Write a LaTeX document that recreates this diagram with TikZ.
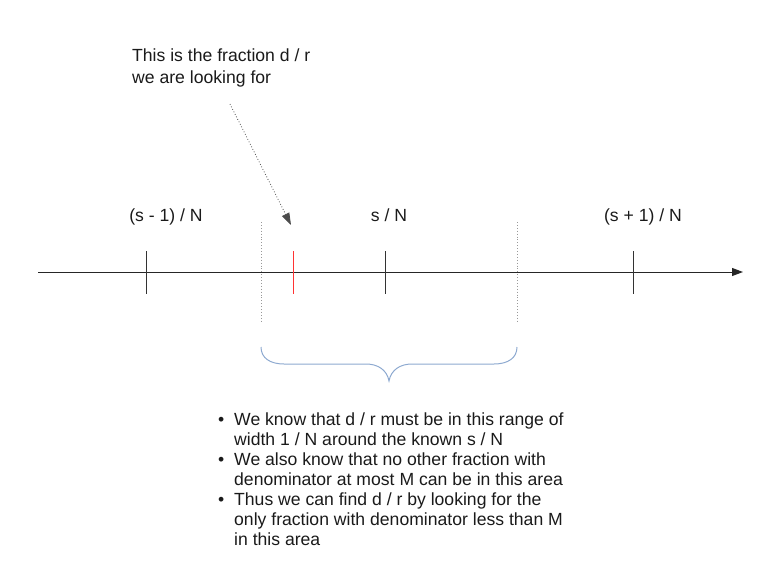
\documentclass[tikz,border=0pt]{standalone}
\usepackage{fontspec}
\setmainfont{Liberation Sans}
\usetikzlibrary{arrows.meta}
\definecolor{txt}{HTML}{1A1A1A}
\definecolor{bracec}{HTML}{8DA9D0}
\definecolor{tickred}{HTML}{FF3333}
\definecolor{dotc}{HTML}{999999}
\tikzset{
  lbl/.style={inner sep=0pt, text=txt, font=\fontsize{17.6}{20}\selectfont},
  tickmark/.style={draw=black!80, line width=0.9pt},
  bound/.style={draw=dotc, dotted, line width=0.9pt},
  axisline/.style={draw=black!85, line width=1pt, -{Triangle[length=11pt,width=8pt]}},
  pointer/.style={draw=black!70, dotted, line width=0.8pt, -{Triangle[length=12pt,width=8pt]}},
  bracestyle/.style={draw=bracec, line width=1pt},
}
\begin{document}
\begin{tikzpicture}[x=1pt,y=-1pt]
\useasboundingbox (0,0) rectangle (781,586);
% axis
\coordinate (a0) at (38,272);
\coordinate (a1) at (743,272);
\draw[axisline] (a0) -- (a1);
% ticks
\coordinate (t1a) at (146,251); \coordinate (t1b) at (146,294);
\coordinate (t2a) at (293,251); \coordinate (t2b) at (293,294);
\coordinate (t3a) at (385,251); \coordinate (t3b) at (385,294);
\coordinate (t4a) at (633,251); \coordinate (t4b) at (633,294);
\draw[tickmark] (t1a) -- (t1b);
\draw[tickmark, draw=tickred] (t2a) -- (t2b);
\draw[tickmark] (t3a) -- (t3b);
\draw[tickmark] (t4a) -- (t4b);
% bounds
\coordinate (b1a) at (261,222); \coordinate (b1b) at (261,321);
\coordinate (b2a) at (517,222); \coordinate (b2b) at (517,321);
\draw[bound] (b1a) -- (b1b);
\draw[bound] (b2a) -- (b2b);
% labels
\node[lbl, anchor=base] (lm) at (166,221) {(s - 1) / N};
\node[lbl, anchor=base] (ls) at (389,221) {s / N};
\node[lbl, anchor=base] (lp) at (643,221) {(s + 1) / N};
% top text
\node[lbl, anchor=base west, align=left, font=\fontsize{17.6}{21}\selectfont] (top) at (132,83) {This is the fraction d / r\\we are looking for};
% pointer
\coordinate (p0) at (230,104);
\coordinate (p1) at (291,225);
\draw[pointer] (p0) -- (p1);
% brace
\coordinate (br0) at (261,347);
\coordinate (brm) at (389,381);
\coordinate (br1) at (517,347);
\draw[bracestyle] (br0) .. controls (261,358) and (270,364) .. (284,364)
  -- (366,364) .. controls (378,364) and (387,370) .. (brm)
  .. controls (391,370) and (400,364) .. (412,364)
  -- (494,364) .. controls (508,364) and (517,358) .. (br1);
% bullets
\node[lbl, anchor=base west, align=left] (list) at (218,545) {%
\makebox[16pt][l]{•}We know that d / r must be in this range of\\
\hspace*{16pt}width 1 / N around the known s / N\\
\makebox[16pt][l]{•}We also know that no other fraction with\\
\hspace*{16pt}denominator at most M can be in this area\\
\makebox[16pt][l]{•}Thus we can find d / r by looking for the\\
\hspace*{16pt}only fraction with denominator less than M\\
\hspace*{16pt}in this area};
\end{tikzpicture}
\end{document}
